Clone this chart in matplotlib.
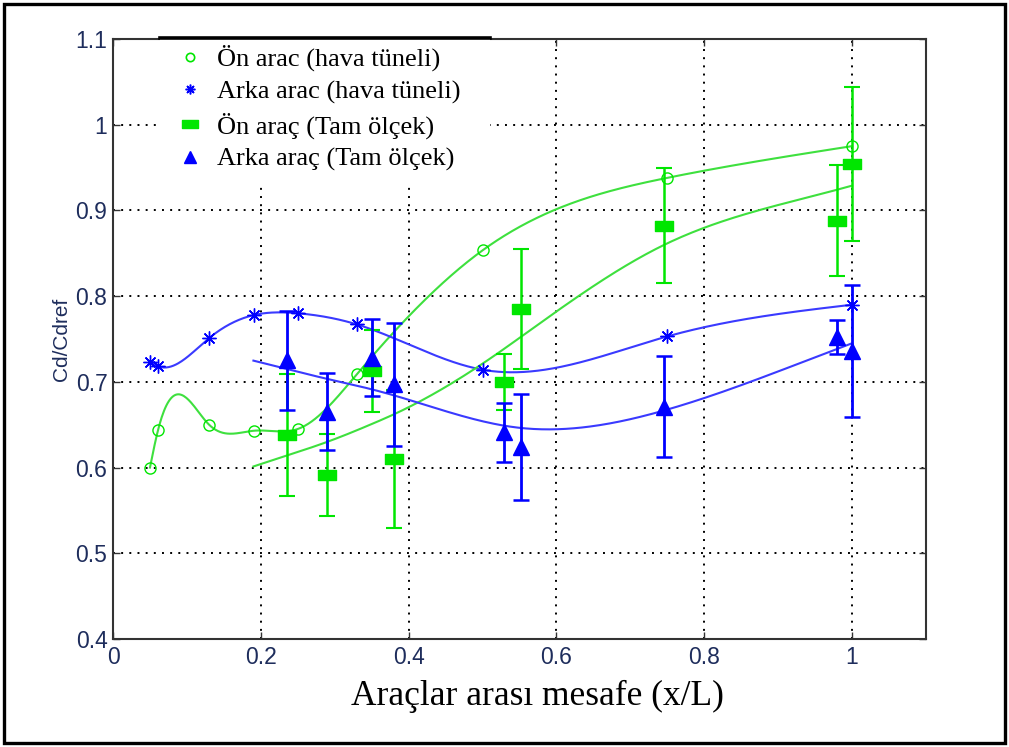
import numpy as np
import matplotlib
matplotlib.use("Agg")
import matplotlib.pyplot as plt
from matplotlib.lines import Line2D
from matplotlib.patches import Rectangle
from matplotlib.path import Path
from matplotlib.ticker import FuncFormatter

# Wind tunnel measurements (x/L vs Cd/Cdref)
wt_x = [0.050, 0.061, 0.130, 0.191, 0.250, 0.330, 0.501, 0.750, 1.000]
wt_front = [0.600, 0.644, 0.650, 0.643, 0.645, 0.709, 0.854, 0.938, 0.975]
wt_rear = [0.723, 0.718, 0.751, 0.778, 0.780, 0.767, 0.714, 0.753, 0.790]

# Full-scale measurements with their scatter
fs_x = [0.236, 0.290, 0.350, 0.380, 0.529, 0.552, 0.746, 0.980, 1.000]
fs_front = [0.638, 0.591, 0.713, 0.610, 0.700, 0.785, 0.882, 0.888, 0.954]
fs_front_err = [0.071, 0.048, 0.048, 0.081, 0.033, 0.070, 0.067, 0.065, 0.090]
fs_rear = [0.725, 0.665, 0.728, 0.697, 0.641, 0.624, 0.671, 0.752, 0.736]
fs_rear_err = [0.058, 0.045, 0.045, 0.072, 0.034, 0.062, 0.059, 0.020, 0.077]

labels = ["Ön arac (hava tüneli)", "Arka arac (hava tüneli)",
          "Ön araç (Tam ölçek)", "Arka araç (Tam ölçek)"]
x_ticks = [0, 0.2, 0.4, 0.6, 0.8, 1.0]
y_ticks = [0.4, 0.5, 0.6, 0.7, 0.8, 0.9, 1.0, 1.1]


def spline_curve(x, y, xs):
    """Natural cubic spline through the points."""
    x = np.asarray(x, float)
    y = np.asarray(y, float)
    n = len(x)
    h = np.diff(x)
    A = np.zeros((n, n))
    b = np.zeros(n)
    A[0, 0] = 1.0
    for i in range(1, n - 1):
        A[i, i - 1] = h[i - 1]
        A[i, i] = 2 * (h[i - 1] + h[i])
        A[i, i + 1] = h[i]
        b[i] = 6 * ((y[i + 1] - y[i]) / h[i] - (y[i] - y[i - 1]) / h[i - 1])
    A[-1, -1] = 1.0
    M = np.linalg.solve(A, b)
    idx = np.clip(np.searchsorted(x, xs) - 1, 0, n - 2)
    x0, x1 = x[idx], x[idx + 1]
    hh = x1 - x0
    return (M[idx] * (x1 - xs) ** 3 / (6 * hh) + M[idx + 1] * (xs - x0) ** 3 / (6 * hh)
            + (y[idx] / hh - M[idx] * hh / 6) * (x1 - xs)
            + (y[idx + 1] / hh - M[idx + 1] * hh / 6) * (xs - x0))


def smooth_fit(x, y, grid, lam):
    """Penalised (smoothing spline) trend of scattered data on a uniform grid."""
    x = np.asarray(x, float)
    y = np.asarray(y, float)
    n = len(grid)
    h = grid[1] - grid[0]
    B = np.zeros((len(x), n))
    for k, xi in enumerate(x):
        j = min(int((xi - grid[0]) / h), n - 2)
        t = (xi - grid[j]) / h
        B[k, j] = 1 - t
        B[k, j + 1] = t
    D = np.diff(np.eye(n), 2, axis=0) / h ** 2
    A = B.T @ B + lam * h * D.T @ D
    return np.linalg.solve(A, B.T @ y)


GREEN_M = "#00e600"
GREEN_L = "#3ee03e"
BLUE_M = "#0000ff"
BLUE_L = "#3a3aff"
TICK_C = "#1e2d5c"

# wide rectangle marker
rect_marker = Path([(-1, -0.55), (1, -0.55), (1, 0.55), (-1, 0.55), (-1, -0.55)],
                   [Path.MOVETO, Path.LINETO, Path.LINETO, Path.LINETO, Path.CLOSEPOLY])
asterisk = (8, 2, 0)

fig = plt.figure(figsize=(10.09, 7.47), dpi=100)
ax = fig.add_axes([0.112, 0.1446, 0.8057, 0.8032])

# wind tunnel curves
xs = np.linspace(wt_x[0], wt_x[-1], 600)
ax.plot(xs, spline_curve(wt_x, wt_front, xs), color=GREEN_L, lw=1.5, zorder=3)
ax.plot(xs, spline_curve(wt_x, wt_rear, xs), color=BLUE_L, lw=1.5, zorder=3)
ax.plot(wt_x, wt_front, linestyle="none", marker="o", ms=8, mfc="none",
        mec=GREEN_M, mew=1.0, zorder=4)
ax.plot(wt_x, wt_rear, linestyle="none", marker=asterisk, ms=10, color=BLUE_M,
        mew=1.0, zorder=4)

# full-scale trend curves
xf = np.linspace(0.19, 1.0, 300)
ax.plot(xf, smooth_fit(fs_x, fs_front, xf, 1e-3), color=GREEN_L, lw=1.5, zorder=3)
ax.plot(xf, smooth_fit(fs_x, fs_rear, xf, 1e-3), color=BLUE_L, lw=1.5, zorder=3)

ax.errorbar(fs_x, fs_front, yerr=fs_front_err, fmt="none", ecolor=GREEN_M,
            elinewidth=1.8, capsize=5.5, capthick=1.5, zorder=5)
ax.errorbar(fs_x, fs_rear, yerr=fs_rear_err, fmt="none", ecolor=BLUE_M,
            elinewidth=2.0, capsize=5.5, capthick=1.8, zorder=5)
ax.plot(fs_x, fs_front, linestyle="none", marker=rect_marker, ms=13,
        color=GREEN_M, zorder=6)
ax.plot(fs_x, fs_rear, linestyle="none", marker="^", ms=11, color=BLUE_M, zorder=6)

ax.set_xlim(0, 1.1)
ax.set_ylim(0.4, 1.1)
ax.set_xticks(x_ticks)
ax.set_yticks(y_ticks)
fmt = FuncFormatter(lambda v, p: f"{v:g}")
ax.xaxis.set_major_formatter(fmt)
ax.yaxis.set_major_formatter(fmt)
ax.grid(True, color="black", linestyle=(0, (1, 3.2)), lw=1.4)
ax.tick_params(direction="in", length=5, width=1, top=True, right=True,
               labelsize=16.5, labelcolor=TICK_C, color="#333333")
ax.tick_params(axis="y", pad=4)
ax.tick_params(axis="x", pad=5)
for lab in ax.get_xticklabels() + ax.get_yticklabels():
    lab.set_fontfamily("Liberation Sans")
for sp in ax.spines.values():
    sp.set_color("#333333")
    sp.set_linewidth(1.5)

# legend area
ax.add_patch(Rectangle((0.058, 0.76), 0.406, 0.24, transform=ax.transAxes,
                       facecolor="white", edgecolor="none", zorder=7))
ax.add_line(Line2D([0.058, 0.464], [1.002, 1.002], transform=ax.transAxes,
                   color="black", lw=2.6, clip_on=False, zorder=9))
handles = [
    Line2D([], [], linestyle="none", marker="o", ms=6, mfc="none", mec=GREEN_M, mew=1.2),
    Line2D([], [], linestyle="none", marker=asterisk, ms=7, color=BLUE_M, mew=1.1),
    Line2D([], [], linestyle="none", marker=rect_marker, ms=11, color=GREEN_M),
    Line2D([], [], linestyle="none", marker="^", ms=9, color=BLUE_M),
]
leg = ax.legend(handles, labels, loc="upper left", bbox_to_anchor=(0.079, 0.990),
                frameon=False, prop={"family": "Liberation Serif", "size": 19},
                handlelength=1.0, handletextpad=0.5, labelspacing=0.325,
                borderpad=0, borderaxespad=0)
leg.set_zorder(8)

fig.text(61 / 1009, 1 - 339 / 747, "Cd/Cdref", rotation=90, ha="center", va="center",
         fontsize=15, family="Liberation Sans", color=TICK_C)
fig.text(537 / 1009, 1 - 696 / 747, "Araçlar arası mesafe (x/L)", ha="center",
         va="center", fontsize=25.5, family="Liberation Serif")

fig.patches.append(Rectangle((4 / 1009, 4 / 747), 1001 / 1009, 739 / 747,
                             transform=fig.transFigure, fill=False,
                             edgecolor="black", lw=2.4, zorder=10))

fig.savefig("out.png", dpi=100)
